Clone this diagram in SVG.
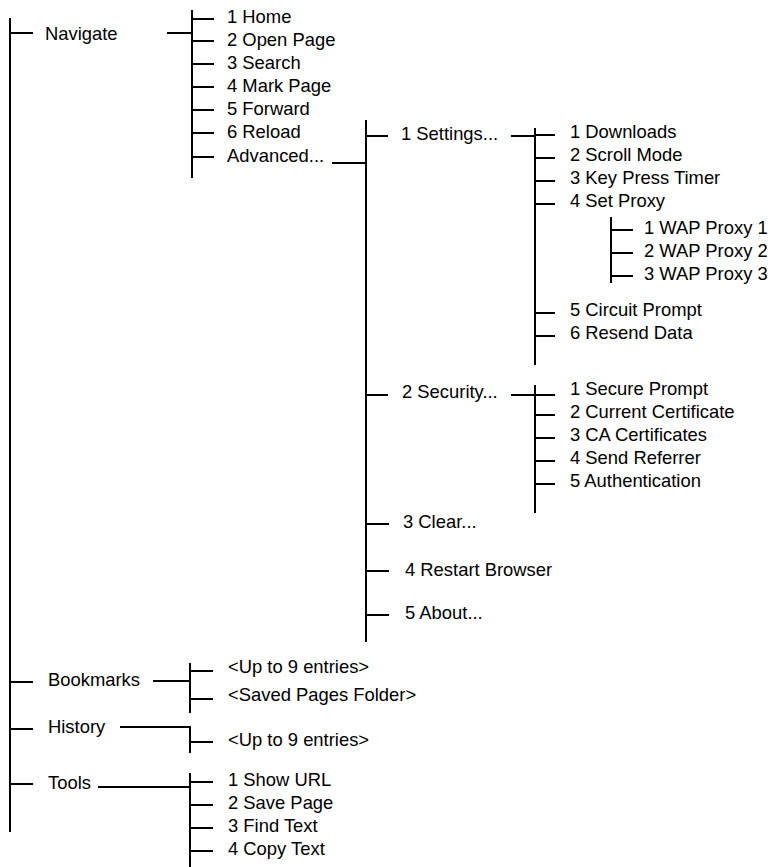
<svg xmlns="http://www.w3.org/2000/svg" width="774" height="867" viewBox="0 0 774 867">
<style>
text{font-family:"Liberation Sans",Arial,sans-serif;font-size:18.4px;fill:#000}
line{stroke:#000;stroke-width:2}
</style>
<rect width="774" height="867" fill="#fff"/>
<g id="connectors">
<!-- main trunk -->
<line x1="10" y1="18" x2="10" y2="832"/>
<line x1="10" y1="33" x2="33" y2="33"/>
<line x1="10" y1="682" x2="33" y2="682"/>
<line x1="10" y1="729" x2="33" y2="729"/>
<line x1="10" y1="784" x2="33" y2="784"/>
<!-- navigate -->
<line x1="167" y1="33" x2="193" y2="33"/>
<line x1="192" y1="10" x2="192" y2="178"/>
<line x1="192" y1="19" x2="214" y2="19"/>
<line x1="192" y1="41" x2="214" y2="41"/>
<line x1="192" y1="64" x2="214" y2="64"/>
<line x1="192" y1="87" x2="214" y2="87"/>
<line x1="192" y1="110" x2="214" y2="110"/>
<line x1="192" y1="133" x2="214" y2="133"/>
<line x1="192" y1="157" x2="214" y2="157"/>
<!-- advanced -->
<line x1="332" y1="163" x2="366" y2="163"/>
<line x1="366" y1="120" x2="366" y2="642"/>
<line x1="366" y1="136" x2="388" y2="136"/>
<line x1="366" y1="395" x2="388" y2="395"/>
<line x1="366" y1="524" x2="389" y2="524"/>
<line x1="367" y1="571" x2="389" y2="571"/>
<line x1="366" y1="615" x2="389" y2="615"/>
<!-- settings -->
<line x1="511" y1="136" x2="535" y2="136"/>
<line x1="535" y1="128" x2="535" y2="365"/>
<line x1="535" y1="135" x2="555" y2="135"/>
<line x1="535" y1="158" x2="555" y2="158"/>
<line x1="535" y1="181" x2="555" y2="181"/>
<line x1="535" y1="204" x2="555" y2="204"/>
<line x1="535" y1="313" x2="555" y2="313"/>
<line x1="535" y1="336" x2="555" y2="336"/>
<!-- set proxy -->
<line x1="611" y1="217" x2="611" y2="283"/>
<line x1="611" y1="230" x2="633" y2="230"/>
<line x1="611" y1="253" x2="633" y2="253"/>
<line x1="611" y1="276" x2="633" y2="276"/>
<!-- security -->
<line x1="511" y1="395" x2="535" y2="395"/>
<line x1="535" y1="385" x2="535" y2="513"/>
<line x1="535" y1="395" x2="555" y2="395"/>
<line x1="535" y1="415" x2="555" y2="415"/>
<line x1="535" y1="438" x2="555" y2="438"/>
<line x1="535" y1="461" x2="555" y2="461"/>
<line x1="535" y1="484" x2="555" y2="484"/>
<!-- bookmarks -->
<line x1="153" y1="681" x2="190" y2="681"/>
<line x1="190" y1="663" x2="190" y2="713"/>
<line x1="190" y1="671" x2="213" y2="671"/>
<line x1="190" y1="699" x2="213" y2="699"/>
<!-- history -->
<line x1="120" y1="727" x2="190" y2="727"/>
<line x1="190" y1="726" x2="190" y2="753"/>
<line x1="190" y1="742" x2="213" y2="742"/>
<!-- tools -->
<line x1="98" y1="787" x2="190" y2="787"/>
<line x1="190" y1="773" x2="190" y2="867"/>
<line x1="190" y1="782" x2="213" y2="782"/>
<line x1="190" y1="805" x2="213" y2="805"/>
<line x1="190" y1="828" x2="213" y2="828"/>
<line x1="190" y1="851" x2="213" y2="851"/>
</g>
<g id="navigate"><text x="45" y="40">Navigate</text></g>
<g id="nav-home"><text x="227" y="23">1 Home</text></g>
<g id="nav-open"><text x="227" y="46">2 Open Page</text></g>
<g id="nav-search"><text x="227" y="69">3 Search</text></g>
<g id="nav-mark"><text x="227" y="92">4 Mark Page</text></g>
<g id="nav-forward"><text x="227" y="115">5 Forward</text></g>
<g id="nav-reload"><text x="227" y="138">6 Reload</text></g>
<g id="nav-advanced"><text x="227" y="162">Advanced...</text></g>
<g id="adv-settings"><text x="401" y="140">1 Settings...</text></g>
<g id="set-downloads"><text x="570" y="138">1 Downloads</text></g>
<g id="set-scroll"><text x="570" y="161">2 Scroll Mode</text></g>
<g id="set-keypress"><text x="570" y="184">3 Key Press Timer</text></g>
<g id="set-proxy"><text x="570" y="207">4 Set Proxy</text></g>
<g id="proxy-1"><text x="644" y="234">1 WAP Proxy 1</text></g>
<g id="proxy-2"><text x="644" y="257">2 WAP Proxy 2</text></g>
<g id="proxy-3"><text x="644" y="280">3 WAP Proxy 3</text></g>
<g id="set-circuit"><text x="570" y="316">5 Circuit Prompt</text></g>
<g id="set-resend"><text x="570" y="339">6 Resend Data</text></g>
<g id="adv-security"><text x="402" y="398">2 Security...</text></g>
<g id="sec-prompt"><text x="570" y="395">1 Secure Prompt</text></g>
<g id="sec-current"><text x="570" y="418">2 Current Certificate</text></g>
<g id="sec-ca"><text x="570" y="441">3 CA Certificates</text></g>
<g id="sec-referrer"><text x="570" y="464">4 Send Referrer</text></g>
<g id="sec-auth"><text x="570" y="487">5 Authentication</text></g>
<g id="adv-clear"><text x="403" y="528">3 Clear...</text></g>
<g id="adv-restart"><text x="405" y="576">4 Restart Browser</text></g>
<g id="adv-about"><text x="405" y="619">5 About...</text></g>
<g id="bookmarks"><text x="48" y="686">Bookmarks</text></g>
<g id="bm-entries"><text x="228" y="673">&lt;Up to 9 entries&gt;</text></g>
<g id="bm-saved"><text x="228" y="701">&lt;Saved Pages Folder&gt;</text></g>
<g id="history"><text x="48" y="733">History</text></g>
<g id="hist-entries"><text x="228" y="746">&lt;Up to 9 entries&gt;</text></g>
<g id="tools"><text x="48" y="789">Tools</text></g>
<g id="tools-url"><text x="228" y="786">1 Show URL</text></g>
<g id="tools-save"><text x="228" y="809">2 Save Page</text></g>
<g id="tools-find"><text x="228" y="832">3 Find Text</text></g>
<g id="tools-copy"><text x="228" y="855">4 Copy Text</text></g>
</svg>
